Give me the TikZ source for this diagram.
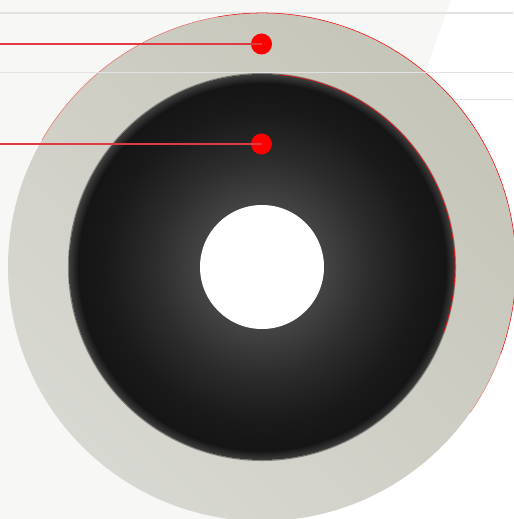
\documentclass[tikz,border=0pt]{standalone}
\usetikzlibrary{positioning}
\definecolor{paper}{HTML}{F7F7F5}
\definecolor{ringdark}{HTML}{C6C5B9}
\definecolor{ringlight}{HTML}{D8D8D2}
\definecolor{rulegray}{HTML}{E2E2E2}
\definecolor{pinred}{HTML}{FF0000}
\definecolor{leadred}{HTML}{E23A42}
\definecolor{diskA}{HTML}{4C4C4C}
\definecolor{diskB}{HTML}{444444}
\definecolor{diskC}{HTML}{2C2C2C}
\definecolor{diskD}{HTML}{1A1A1A}
\definecolor{diskE}{HTML}{151515}
\definecolor{diskrim}{HTML}{3E3E3E}
\pgfdeclareradialshading{disk}{\pgfpointorigin}{color(0bp)=(diskA); color(8bp)=(diskB);
  color(14bp)=(diskC); color(20bp)=(diskD); color(23.8bp)=(diskE); color(25bp)=(diskrim); color(50bp)=(diskrim)}

\begin{document}
\begin{tikzpicture}[
  x=0.02cm, y=0.02cm,
  rule/.style={rulegray, line width=0.8pt},
  lead/.style={draw=leadred, line width=1pt},
  pin/.style={circle, fill=pinred, inner sep=0pt, minimum size=0.42cm},
  rimred/.style={red, line width=0.3pt}
]
\def\Ro{254}\def\Ri{193}\def\Rh{62}
\useasboundingbox (0,0) rectangle (513,-519);
% paper
\fill[white] (0,0) rectangle (513,-519);
\fill[paper] (0,0) -- (451,0) -- (263,-519) -- (0,-519) -- cycle;
\coordinate (c) at (262,-267);
% rules behind the ring
\draw[rule] (0,-13) -- (513,-13);
\draw[rule] (440,-99.5) -- (513,-99.5);
% outer ring
\shade[shading=axis, top color=ringdark, bottom color=ringlight, shading angle=-45]
  (c) circle[radius=\Ro];
\draw[rimred, opacity=0.5] (c) ++(150:\Ro) arc[start angle=150, end angle=100, radius=\Ro];
\draw[rimred] (c) ++(100:\Ro) arc[start angle=100, end angle=-20, radius=\Ro];
\draw[rimred, opacity=0.4] (c) ++(-20:\Ro) arc[start angle=-20, end angle=-35, radius=\Ro];
% dark disk
\draw[diskrim!50!ringdark, line width=0.6pt] (c) circle[radius=\Ri+0.5];
\shade[shading=disk] (c) circle[radius=\Ri];
\draw[rimred] (c) ++(85:\Ri) arc[start angle=85, end angle=-20, radius=\Ri];
% hole
\fill[white] (c) circle[radius=\Rh];
% rule over the ring
\draw[rule] (0,-72.5) -- (513,-72.5);
% pins and leads
\node[pin] (pinA) at (261.5,-44) {};
\node[pin] (pinB) at (261.5,-144) {};
\coordinate (endA) at (0,-44);
\coordinate (endB) at (0,-144);
\draw[lead] (endA) -- (pinA.center);
\draw[lead] (endB) -- (pinB.center);
\end{tikzpicture}
\end{document}
